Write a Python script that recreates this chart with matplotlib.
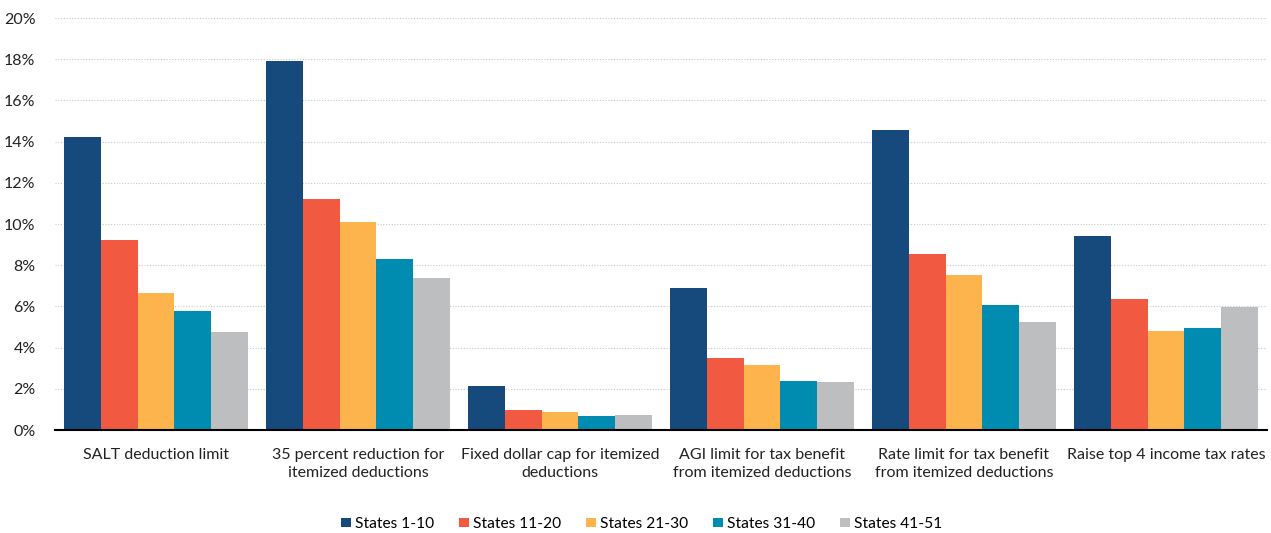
import matplotlib
matplotlib.use("Agg")
import matplotlib.pyplot as plt
import numpy as np
from matplotlib.ticker import FuncFormatter

plt.rcParams['font.family'] = ['Lato', 'DejaVu Sans']

categories = ["SALT deduction limit",
              "35 percent reduction for\nitemized deductions",
              "Fixed dollar cap for itemized\ndeductions",
              "AGI limit for tax benefit\nfrom itemized deductions",
              "Rate limit for tax benefit\nfrom itemized deductions",
              "Raise top 4 income tax rates"]
series_names = ["States 1-10", "States 11-20", "States 21-30", "States 31-40", "States 41-51"]
states_1_10 = [14.2, 17.9, 2.13, 6.88, 14.55, 9.4]
states_11_20 = [9.2, 11.2, 0.95, 3.48, 8.55, 6.35]
states_21_30 = [6.65, 10.12, 0.87, 3.15, 7.52, 4.8]
states_31_40 = [5.77, 8.28, 0.68, 2.4, 6.07, 4.93]
states_41_51 = [4.76, 7.4, 0.72, 2.32, 5.24, 5.95]
colors = ["#174A7C", "#F15A40", "#FDB44D", "#008BB0", "#BDBEC0"]

series = [states_1_10, states_11_20, states_21_30, states_31_40, states_41_51]

fig = plt.figure(figsize=(12.71, 5.33), dpi=100)
ax = fig.add_axes([55/1271, 1-430/533, 1212/1271, 412/533])

x = np.arange(len(categories))
w = 0.183
for i, (vals, name, c) in enumerate(zip(series, series_names, colors)):
    ax.bar(x + (i - 2) * w, vals, width=w, color=c, label=name, zorder=3)

ax.set_xlim(-0.5, 5.5)
ax.set_ylim(0, 20)
ax.set_yticks(np.arange(0, 21, 2))
ax.yaxis.set_major_formatter(FuncFormatter(lambda v, p: f"{int(v)}%"))
ax.grid(axis='y', linestyle=(0, (1, 1.5)), color='#c8c8c8', linewidth=0.8, zorder=0)
for s in ['top', 'right', 'left']:
    ax.spines[s].set_visible(False)
ax.spines['bottom'].set_color('black')
ax.spines['bottom'].set_linewidth(1.5)
ax.spines['bottom'].set_zorder(4)
ax.tick_params(axis='y', length=0, labelsize=11.5, colors='#222222', pad=14)
ax.tick_params(axis='x', length=0, labelsize=11.5, colors='#222222', pad=13)
ax.set_xticks(x)
ax.set_xticklabels(categories, linespacing=1.4)

leg = fig.legend(loc='center', bbox_to_anchor=(642/1271, 1-524/533), ncol=5, frameon=False,
                 fontsize=11.2, handlelength=0.6, handleheight=0.6, handletextpad=0.3,
                 columnspacing=1.6)

fig.savefig("out.png", dpi=100)
